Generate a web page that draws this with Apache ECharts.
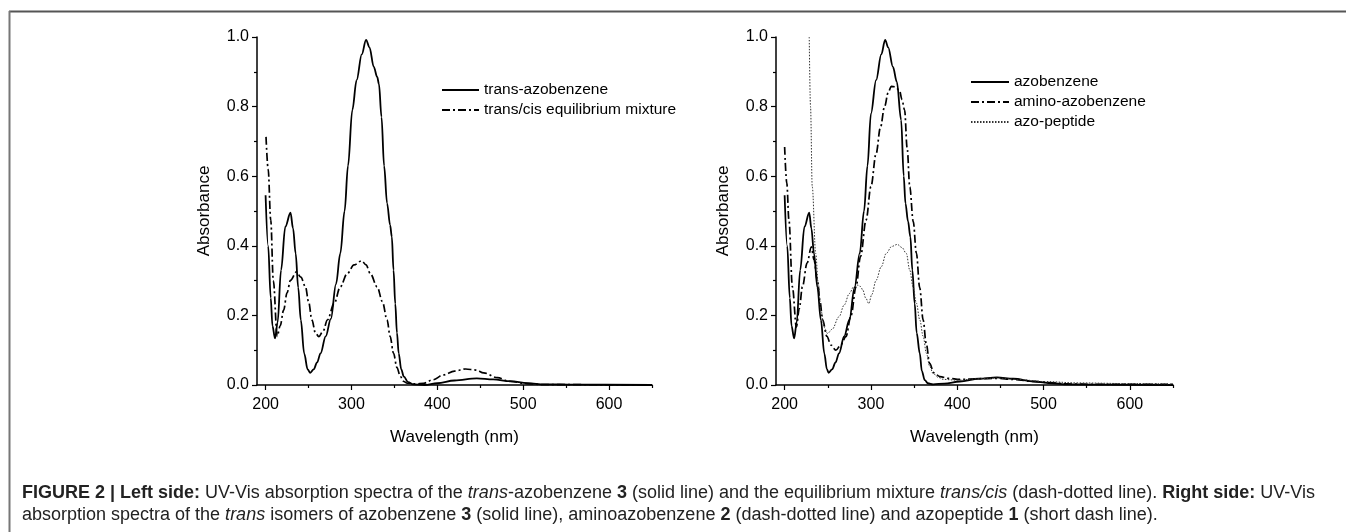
<!DOCTYPE html>
<html>
<head>
<meta charset="utf-8">
<script src="https://cdn.jsdelivr.net/npm/echarts@6/dist/echarts.min.js"></script>
<style>
html,body{margin:0;padding:0;background:#fff;}
#c{width:1346px;height:532px;}
</style>
</head>
<body>
<div id="c"></div>
<script>
// ---- Data ----
// Left panel: trans-azobenzene (solid)
var wlTrans = [200,203,206,208,211,214,218,223,229,232,235,238,241,245,249,252,256,260,264,270,276,282,287,292,296,301,306,312,317,321,326,330,332,335,338,341.5,345,347,349,351,353,355,358,361,366,372,385,400,420,446,465,485,505,525,560,650];
var absTrans = [0.545,0.40,0.25,0.17,0.134,0.18,0.33,0.455,0.495,0.45,0.378,0.28,0.187,0.09,0.045,0.035,0.045,0.065,0.091,0.14,0.19,0.29,0.378,0.5,0.63,0.79,0.876,0.95,0.992,0.97,0.914,0.885,0.865,0.77,0.63,0.522,0.46,0.426,0.33,0.234,0.15,0.091,0.045,0.024,0.008,0.002,0.0,0.005,0.013,0.019,0.016,0.011,0.005,0.002,0.001,0.0];
// Left panel: trans/cis equilibrium mixture (dash-dot)
var wlMix = [200.5,203,206,209,213.5,217,221,225,229,236,241,246.5,250,254,258,262,267,272,280,287,295,303,312,317,322,330,336,341.5,345,349,353,357,361,365,375,384,395,407,420,433,445,454,470,485,505,525,650];
var absMix = [0.713,0.62,0.474,0.3,0.14,0.17,0.215,0.265,0.301,0.325,0.31,0.282,0.24,0.187,0.15,0.139,0.155,0.187,0.235,0.282,0.32,0.345,0.357,0.345,0.32,0.282,0.24,0.187,0.14,0.091,0.05,0.024,0.01,0.005,0.003,0.005,0.015,0.029,0.04,0.046,0.043,0.035,0.021,0.01,0.004,0.001,0.0];
// Right panel: azobenzene (solid)
var wlAzo = [200,203,206,208,211,214,218,223,228.5,231,234,238,242,246,249,251,255,259,263,269,275,281,287,292,296,300,306,312,316.5,320,325.5,330,335,338,340,343,345.7,348,350.7,353,356.6,359,362.4,366,372,385,403,425,446,465,489,510,528,560,650];
var absAzo = [0.545,0.40,0.25,0.17,0.134,0.18,0.33,0.455,0.495,0.45,0.378,0.28,0.187,0.09,0.045,0.035,0.045,0.065,0.091,0.14,0.187,0.28,0.378,0.5,0.63,0.78,0.876,0.95,0.992,0.97,0.914,0.871,0.761,0.6,0.522,0.47,0.426,0.33,0.234,0.15,0.091,0.04,0.014,0.005,0.002,0.004,0.01,0.018,0.022,0.018,0.01,0.005,0.002,0.001,0.0];
// Right panel: amino-azobenzene (dash-dot)
var wlAmino = [200,202.5,205,209,213.6,217,220.6,226,231,234,238,241,244,249,253.6,259.4,265,271,277,282.7,288,294.4,300,306,311,315.8,320,323.5,328,333,336,339,342,345,349,352.7,356.5,360.5,364,368,373,380,390,403,425,446,465,489,510,528,560,650];
var absAmino = [0.684,0.58,0.474,0.282,0.167,0.22,0.282,0.35,0.397,0.36,0.301,0.24,0.187,0.14,0.115,0.1,0.115,0.139,0.2,0.282,0.37,0.474,0.57,0.665,0.74,0.8,0.84,0.858,0.857,0.847,0.82,0.79,0.68,0.569,0.47,0.378,0.28,0.187,0.12,0.062,0.035,0.024,0.019,0.016,0.018,0.019,0.016,0.01,0.006,0.003,0.002,0.002];
// Right panel: azo-peptide (short dash)
var wlPep = [228.5,230,232,236,239,242,246,249.7,255,263,269,275,280,284.7,288,290.5,294,297.5,301,306,312,317.7,324,330.5,336,341,345,348.8,352.7,356.6,360.5,364.3,368,372,378,384,400,425,446,470,500,540,600,650];
var absPep = [1.0,0.8,0.57,0.378,0.29,0.215,0.165,0.148,0.16,0.196,0.23,0.263,0.282,0.287,0.283,0.273,0.25,0.234,0.26,0.301,0.34,0.378,0.398,0.404,0.395,0.378,0.33,0.282,0.235,0.187,0.14,0.091,0.055,0.033,0.022,0.016,0.014,0.018,0.02,0.016,0.01,0.006,0.004,0.003];

var xMajor = [200,300,400,500,600];
var xMinor = [250,350,450,550,650];

function zip(a,b){var r=[];for(var i=0;i<a.length;i++)r.push([a[i],b[i]]);return r;}

var FONT = '"Liberation Sans", Arial, Helvetica, sans-serif';
var chart = echarts.init(document.getElementById('c'), null, {renderer:'canvas'});

function xAxisMain(gi){
  return {
    type:'value', gridIndex:gi, min:190, max:650,
    name:'Wavelength (nm)', nameLocation:'middle', nameGap:44,
    nameTextStyle:{fontFamily:FONT,fontSize:17,color:'#000'},
    axisLine:{show:true,onZero:false,lineStyle:{color:'#000',width:1.5}},
    axisTick:{show:true,inside:false,length:5,customValues:xMajor,lineStyle:{color:'#000',width:1.2}},
    axisLabel:{show:true,margin:12,customValues:xMajor,fontFamily:FONT,fontSize:16,color:'#000'},
    splitLine:{show:false}
  };
}
function xAxisMinor(gi){
  return {
    type:'value', gridIndex:gi, min:190, max:650, position:'bottom',
    axisLine:{show:false,onZero:false},
    axisTick:{show:true,inside:false,length:3,customValues:xMinor,lineStyle:{color:'#000',width:1.2}},
    axisLabel:{show:false},
    splitLine:{show:false}
  };
}
function yAxisMain(gi){
  return {
    type:'value', gridIndex:gi, min:0, max:1, interval:0.2,
    name:'Absorbance', nameLocation:'middle', nameGap:44,
    nameTextStyle:{fontFamily:FONT,fontSize:17,color:'#000'},
    axisLine:{show:true,onZero:false,lineStyle:{color:'#000',width:1.5}},
    axisTick:{show:true,inside:false,length:5,lineStyle:{color:'#000',width:1.2}},
    minorTick:{show:true,splitNumber:2,length:3,lineStyle:{color:'#000',width:1.2}},
    axisLabel:{margin:8,fontFamily:FONT,fontSize:16,color:'#000',formatter:function(v){return v.toFixed(1);}},
    splitLine:{show:false}, minorSplitLine:{show:false}
  };
}
function lineSeries(name, xi, yi, wl, ab, style){
  return {
    type:'line', name:name, xAxisIndex:xi, yAxisIndex:yi,
    data:zip(wl,ab), showSymbol:false, symbol:'none',
    smooth:0.35, smoothMonotone:'x', clip:true,
    lineStyle:style, color:'#000', animation:false
  };
}
var solid = {color:'#000',width:1.8,type:'solid'};
var dashDot = {color:'#000',width:1.7,type:[8,3,2,3]};
var dotted = {color:'#333',width:1,type:[1.5,1.5]};

var caption1 = '{b|FIGURE 2 | Left side:} UV-Vis absorption spectra of the {i|trans}-azobenzene {b|3} (solid line) and the equilibrium mixture {i|trans/cis} (dash-dotted line). {b|Right side:} UV-Vis';
var caption2 = 'absorption spectra of the {i|trans} isomers of azobenzene {b|3} (solid line), aminoazobenzene {b|2} (dash-dotted line) and azopeptide {b|1} (short dash line).';

var capRich = {
  b:{fontFamily:FONT,fontSize:18,fontWeight:'bold',color:'#222',lineHeight:22},
  i:{fontFamily:FONT,fontSize:18,fontStyle:'italic',color:'#222',lineHeight:22}
};

var legendCommon = {
  orient:'vertical', padding:0, itemHeight:16, itemGap:4, selectedMode:false,
  itemStyle:{color:'rgba(0,0,0,0)',borderWidth:0,opacity:0},
  textStyle:{fontFamily:FONT,fontSize:15.5,color:'#000'}
};

var option = {
  backgroundColor:'#fff',
  animation:false,
  title:{
    text: caption1 + '\n' + caption2,
    left:22, top:482, padding:0,
    textStyle:{fontFamily:FONT,fontSize:18,fontWeight:'normal',color:'#222',lineHeight:22,rich:capRich}
  },
  grid:[
    {left:257,top:37,width:395,height:348,containLabel:false},
    {left:776,top:37,width:397,height:348,containLabel:false}
  ],
  xAxis:[xAxisMain(0), xAxisMinor(0), xAxisMain(1), xAxisMinor(1)],
  yAxis:[yAxisMain(0), yAxisMain(1)],
  legend:[
    Object.assign({}, legendCommon, {
      data:['trans-azobenzene','trans/cis equilibrium mixture'],
      left:441, top:82, itemWidth:37
    }),
    Object.assign({}, legendCommon, {
      data:['azobenzene','amino-azobenzene','azo-peptide'],
      left:970, top:74, itemWidth:38
    })
  ],
  series:[
    lineSeries('trans-azobenzene',0,0,wlTrans,absTrans,solid),
    lineSeries('trans/cis equilibrium mixture',0,0,wlMix,absMix,dashDot),
    lineSeries('azobenzene',2,1,wlAzo,absAzo,solid),
    lineSeries('amino-azobenzene',2,1,wlAmino,absAmino,dashDot),
    lineSeries('azo-peptide',2,1,wlPep,absPep,dotted)
  ],
  graphic:[
    {type:'line',shape:{x1:9,y1:11.5,x2:1346,y2:11.5},style:{stroke:'#555',lineWidth:2},silent:true},
    {type:'line',shape:{x1:9.5,y1:11,x2:9.5,y2:532},style:{stroke:'#777',lineWidth:2},silent:true}
  ]
};
chart.setOption(option);
</script>
</body>
</html>
